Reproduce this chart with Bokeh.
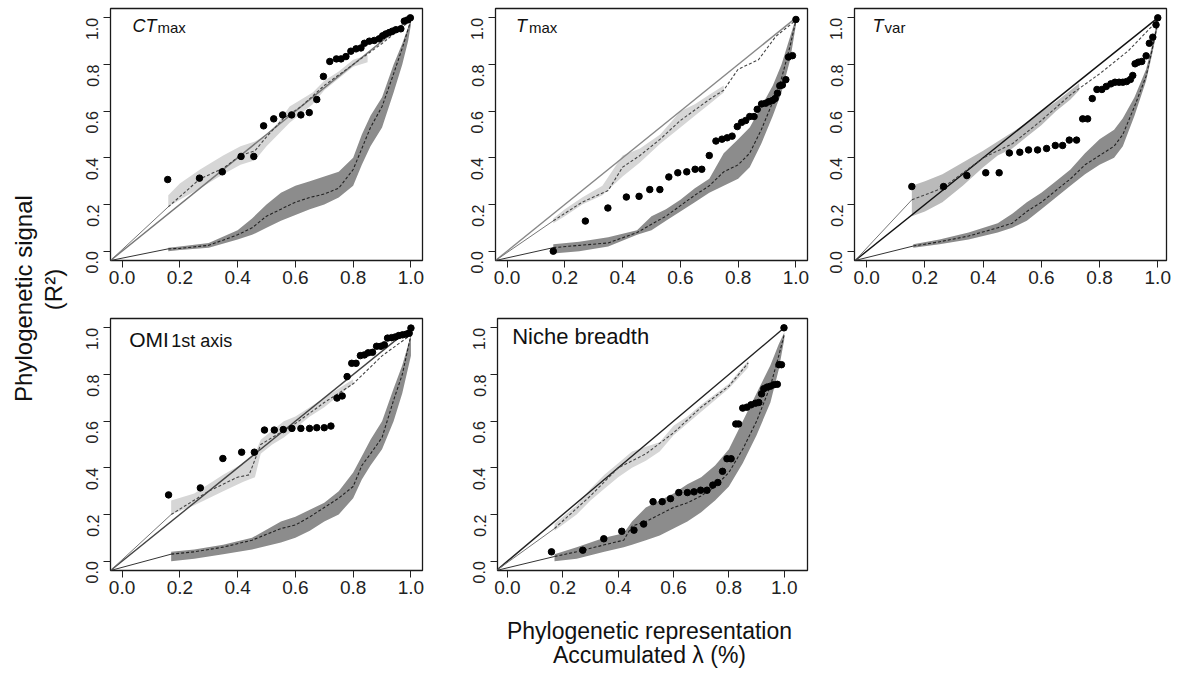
import math
from bokeh.plotting import figure
from bokeh.models import FixedTicker, PrintfTickFormatter, Label
from bokeh.layouts import row, column
from bokeh.embed import file_html
from bokeh.resources import INLINE

FONT = "Liberation Sans"
TICKS = [0.0, 0.2, 0.4, 0.6, 0.8, 1.0]
CORNER = -0.04

# ---------------- CTmax ----------------
ctmax_pts_x = [0.158, 0.268, 0.347, 0.412, 0.456, 0.49, 0.525, 0.556, 0.587, 0.619, 0.648, 0.674, 0.697, 0.719,
               0.742, 0.758, 0.775, 0.792, 0.81, 0.827, 0.839, 0.856, 0.873, 0.89, 0.902, 0.913, 0.925, 0.936,
               0.948, 0.965, 0.977, 0.988, 0.998]
ctmax_pts_y = [0.307, 0.313, 0.34, 0.406, 0.406, 0.537, 0.567, 0.584, 0.584, 0.584, 0.594, 0.65, 0.749, 0.813,
               0.824, 0.824, 0.834, 0.857, 0.867, 0.871, 0.891, 0.9, 0.903, 0.91, 0.923, 0.931, 0.937, 0.943,
               0.949, 0.953, 0.986, 0.991, 1.0]
ctmax_light_x = [0.16, 0.2, 0.27, 0.35, 0.41, 0.46, 0.5, 0.54, 0.58, 0.62, 0.66, 0.7, 0.75, 0.8, 0.85]
ctmax_light_lo = [0.19, 0.22, 0.27, 0.33, 0.37, 0.39, 0.45, 0.5, 0.55, 0.59, 0.63, 0.69, 0.74, 0.79, 0.81]
ctmax_light_hi = [0.24, 0.29, 0.35, 0.41, 0.45, 0.47, 0.5, 0.55, 0.62, 0.65, 0.68, 0.73, 0.77, 0.82, 0.84]
ctmax_lmean_x = [0.16, 0.27, 0.35, 0.41, 0.46, 0.5, 0.56, 0.62, 0.7, 0.8, 0.9, 0.97, 1.0]
ctmax_lmean_y = [0.19, 0.31, 0.355, 0.41, 0.43, 0.49, 0.57, 0.62, 0.71, 0.80, 0.89, 0.96, 0.99]
ctmax_dark_x = [0.16, 0.2, 0.3, 0.4, 0.45, 0.5, 0.55, 0.6, 0.65, 0.7, 0.75, 0.8, 0.83, 0.86, 0.9, 0.94, 0.97, 0.99, 1.0]
ctmax_dark_lo = [0.0, 0.005, 0.015, 0.05, 0.07, 0.10, 0.13, 0.155, 0.18, 0.2, 0.23, 0.28, 0.37, 0.45, 0.53, 0.68, 0.8, 0.9, 0.97]
ctmax_dark_hi = [0.015, 0.02, 0.035, 0.09, 0.14, 0.2, 0.25, 0.28, 0.3, 0.32, 0.34, 0.40, 0.5, 0.58, 0.66, 0.8, 0.89, 0.96, 1.0]
ctmax_dark_mean = [0.01, 0.012, 0.025, 0.07, 0.1, 0.15, 0.18, 0.21, 0.23, 0.245, 0.27, 0.35, 0.44, 0.53, 0.62, 0.76, 0.87, 0.95, 0.99]

# ---------------- Tmax ----------------
tmax_pts_x = [0.16, 0.271, 0.349, 0.413, 0.457, 0.494, 0.529, 0.56, 0.591, 0.622, 0.651, 0.674, 0.7, 0.723, 0.744,
              0.762, 0.779, 0.797, 0.812, 0.826, 0.84, 0.855, 0.866, 0.881, 0.895, 0.907, 0.919, 0.928, 0.936,
              0.944, 0.953, 0.965, 0.974, 0.988, 1.0]
tmax_pts_y = [0.0, 0.129, 0.185, 0.232, 0.235, 0.264, 0.264, 0.318, 0.336, 0.34, 0.351, 0.351, 0.41, 0.472, 0.48,
              0.486, 0.493, 0.534, 0.552, 0.56, 0.577, 0.577, 0.608, 0.631, 0.634, 0.641, 0.646, 0.654, 0.677,
              0.709, 0.712, 0.735, 0.832, 0.838, 0.993]
tmax_light_x = [0.16, 0.2, 0.26, 0.33, 0.4, 0.46, 0.53, 0.6, 0.65, 0.7, 0.75]
tmax_light_lo = [0.12, 0.15, 0.2, 0.24, 0.32, 0.38, 0.46, 0.53, 0.58, 0.63, 0.68]
tmax_light_hi = [0.14, 0.18, 0.23, 0.28, 0.41, 0.44, 0.5, 0.6, 0.63, 0.67, 0.71]
tmax_lmean_x = [0.16, 0.26, 0.35, 0.4, 0.46, 0.53, 0.6, 0.7, 0.75, 0.8, 0.87, 0.93, 1.0]
tmax_lmean_y = [0.13, 0.21, 0.26, 0.36, 0.41, 0.48, 0.56, 0.65, 0.69, 0.78, 0.82, 0.92, 0.99]
tmax_dark_x = [0.16, 0.25, 0.35, 0.45, 0.5, 0.55, 0.6, 0.65, 0.7, 0.75, 0.8, 0.84, 0.88, 0.92, 0.95, 0.98, 1.0]
tmax_dark_lo = [-0.01, 0.0, 0.02, 0.07, 0.09, 0.13, 0.17, 0.21, 0.25, 0.28, 0.31, 0.36, 0.46, 0.58, 0.68, 0.82, 0.97]
tmax_dark_hi = [0.03, 0.04, 0.06, 0.09, 0.15, 0.18, 0.22, 0.27, 0.31, 0.42, 0.48, 0.53, 0.62, 0.71, 0.8, 0.92, 1.0]
tmax_dark_mean = [0.015, 0.025, 0.035, 0.08, 0.115, 0.15, 0.195, 0.24, 0.28, 0.34, 0.37, 0.42, 0.52, 0.64, 0.74, 0.88, 0.99]

# ---------------- Tvar ----------------
tvar_pts_x = [0.155, 0.264, 0.344, 0.409, 0.455, 0.49, 0.526, 0.556, 0.587, 0.618, 0.648, 0.673, 0.696, 0.721,
              0.742, 0.759, 0.775, 0.791, 0.808, 0.823, 0.839, 0.853, 0.867, 0.88, 0.893, 0.906, 0.914, 0.922,
              0.933, 0.945, 0.96, 0.971, 0.983, 0.994, 1.0]
tvar_pts_y = [0.277, 0.277, 0.324, 0.336, 0.336, 0.421, 0.424, 0.434, 0.434, 0.44, 0.453, 0.453, 0.476, 0.476,
              0.567, 0.567, 0.654, 0.693, 0.693, 0.706, 0.717, 0.724, 0.724, 0.724, 0.727, 0.736, 0.753, 0.803,
              0.81, 0.813, 0.837, 0.891, 0.917, 0.97, 1.0]
tvar_light_x = [0.155, 0.2, 0.26, 0.33, 0.4, 0.45, 0.5, 0.55, 0.6, 0.65, 0.7, 0.73]
tvar_light_lo = [0.15, 0.17, 0.21, 0.28, 0.36, 0.41, 0.44, 0.49, 0.54, 0.6, 0.65, 0.69]
tvar_light_hi = [0.28, 0.3, 0.33, 0.38, 0.43, 0.47, 0.51, 0.55, 0.6, 0.64, 0.69, 0.72]
tvar_lmean_x = [0.155, 0.26, 0.4, 0.5, 0.6, 0.7, 0.8, 0.9, 1.0]
tvar_lmean_y = [0.22, 0.27, 0.4, 0.46, 0.56, 0.67, 0.76, 0.86, 0.99]
tvar_dark_x = [0.16, 0.25, 0.35, 0.45, 0.5, 0.55, 0.6, 0.65, 0.7, 0.75, 0.8, 0.85, 0.88, 0.92, 0.96, 0.98, 1.0]
tvar_dark_lo = [0.015, 0.03, 0.05, 0.08, 0.1, 0.13, 0.18, 0.23, 0.28, 0.33, 0.37, 0.40, 0.45, 0.58, 0.73, 0.84, 0.96]
tvar_dark_hi = [0.03, 0.05, 0.08, 0.12, 0.16, 0.21, 0.25, 0.3, 0.35, 0.42, 0.48, 0.52, 0.57, 0.66, 0.78, 0.88, 1.0]
tvar_dark_mean = [0.022, 0.04, 0.065, 0.1, 0.12, 0.17, 0.21, 0.26, 0.31, 0.37, 0.41, 0.45, 0.5, 0.62, 0.75, 0.86, 0.98]

# ---------------- OMI 1st axis ----------------
omi_pts_x = [0.161, 0.271, 0.349, 0.414, 0.458, 0.493, 0.527, 0.558, 0.588, 0.619, 0.649, 0.674, 0.7, 0.723,
             0.744, 0.762, 0.779, 0.795, 0.81, 0.825, 0.839, 0.852, 0.867, 0.881, 0.896, 0.908, 0.919, 0.933,
             0.946, 0.958, 0.971, 0.984, 0.994, 1.0]
omi_pts_y = [0.284, 0.314, 0.44, 0.467, 0.467, 0.562, 0.562, 0.564, 0.569, 0.569, 0.569, 0.572, 0.572, 0.579,
             0.699, 0.708, 0.791, 0.848, 0.848, 0.881, 0.884, 0.893, 0.895, 0.921, 0.921, 0.927, 0.956, 0.958,
             0.961, 0.967, 0.97, 0.973, 0.977, 0.999]
omi_light_x = [0.17, 0.25, 0.35, 0.42, 0.46, 0.48, 0.52, 0.56, 0.6, 0.65, 0.7, 0.75, 0.8]
omi_light_lo = [0.2, 0.24, 0.3, 0.34, 0.36, 0.46, 0.5, 0.53, 0.57, 0.62, 0.66, 0.71, 0.76]
omi_light_hi = [0.26, 0.29, 0.37, 0.42, 0.46, 0.52, 0.56, 0.6, 0.62, 0.66, 0.7, 0.74, 0.78]
omi_lmean_x = [0.17, 0.3, 0.4, 0.44, 0.48, 0.6, 0.7, 0.8, 0.9, 1.0]
omi_lmean_y = [0.2, 0.3, 0.36, 0.37, 0.5, 0.59, 0.68, 0.76, 0.88, 0.97]
omi_dark_x = [0.17, 0.25, 0.35, 0.45, 0.55, 0.6, 0.65, 0.7, 0.75, 0.8, 0.83, 0.86, 0.9, 0.94, 0.97, 1.0]
omi_dark_lo = [0.0, 0.01, 0.03, 0.05, 0.08, 0.1, 0.13, 0.17, 0.2, 0.27, 0.35, 0.41, 0.48, 0.6, 0.72, 0.88]
omi_dark_hi = [0.04, 0.05, 0.07, 0.1, 0.17, 0.19, 0.22, 0.25, 0.3, 0.38, 0.45, 0.52, 0.6, 0.74, 0.84, 0.97]
omi_dark_mean = [0.03, 0.04, 0.06, 0.09, 0.14, 0.155, 0.19, 0.23, 0.27, 0.32, 0.41, 0.46, 0.53, 0.69, 0.8, 0.97]

# ---------------- Niche breadth ----------------
niche_pts_x = [0.159, 0.272, 0.348, 0.413, 0.457, 0.492, 0.526, 0.559, 0.589, 0.619, 0.65, 0.674, 0.698, 0.721,
               0.742, 0.76, 0.777, 0.793, 0.808, 0.825, 0.835, 0.85, 0.865, 0.88, 0.896, 0.908, 0.918, 0.926,
               0.938, 0.95, 0.962, 0.975, 0.981, 0.99, 0.999]
niche_pts_y = [0.04, 0.047, 0.096, 0.128, 0.133, 0.159, 0.255, 0.255, 0.268, 0.294, 0.294, 0.297, 0.304, 0.304,
               0.326, 0.337, 0.385, 0.439, 0.439, 0.588, 0.588, 0.656, 0.66, 0.67, 0.677, 0.68, 0.717, 0.739,
               0.746, 0.75, 0.756, 0.758, 0.842, 0.842, 1.0]
niche_light_x = [0.17, 0.25, 0.3, 0.35, 0.4, 0.45, 0.5, 0.55, 0.6, 0.65, 0.7, 0.8, 0.87]
niche_light_lo = [0.13, 0.2, 0.26, 0.31, 0.36, 0.4, 0.43, 0.47, 0.54, 0.59, 0.64, 0.74, 0.83]
niche_light_hi = [0.16, 0.24, 0.31, 0.37, 0.42, 0.47, 0.49, 0.51, 0.58, 0.62, 0.67, 0.76, 0.86]
niche_lmean_x = [0.17, 0.3, 0.4, 0.5, 0.6, 0.7, 0.8, 0.87]
niche_lmean_y = [0.14, 0.28, 0.4, 0.46, 0.55, 0.66, 0.75, 0.85]
niche_dark_x = [0.17, 0.25, 0.35, 0.42, 0.45, 0.5, 0.55, 0.6, 0.65, 0.7, 0.75, 0.8, 0.85, 0.9, 0.95, 0.98, 1.0]
niche_dark_lo = [0.0, 0.01, 0.04, 0.06, 0.07, 0.09, 0.11, 0.14, 0.17, 0.21, 0.26, 0.32, 0.42, 0.54, 0.68, 0.82, 0.95]
niche_dark_hi = [0.03, 0.06, 0.1, 0.12, 0.17, 0.23, 0.26, 0.29, 0.33, 0.36, 0.41, 0.48, 0.6, 0.72, 0.84, 0.93, 0.98]
niche_dark_mean = [0.02, 0.04, 0.07, 0.09, 0.15, 0.17, 0.2, 0.23, 0.25, 0.28, 0.32, 0.38, 0.48, 0.6, 0.75, 0.88, 0.97]

Y_LABEL = ["Phylogenetic signal", "(R\u00b2)"]
X_LABEL = ["Phylogenetic representation", "Accumulated \u03bb (%)"]

DARK_FILL = "#8c8c8c"
LIGHT_FILL = "#d6d6d6"


def make_panel(width, height, bl, br, bt, bb, xr, yr, light, dark, pts, light_fill, diag_color):
    p = figure(width=width, height=height, x_range=xr, y_range=yr,
               min_border_left=bl, min_border_right=br, min_border_top=bt, min_border_bottom=bb,
               toolbar_location=None, output_backend="svg", title=None)
    p.grid.visible = False
    p.outline_line_color = "#1a1a1a"
    p.outline_line_width = 1.3
    p.background_fill_color = "white"
    p.border_fill_color = "white"
    for ax in (p.xaxis[0], p.yaxis[0]):
        ax.ticker = FixedTicker(ticks=TICKS, minor_ticks=[])
        ax.formatter = PrintfTickFormatter(format="%.1f")
        ax.axis_line_color = None
        ax.major_tick_in = 0
        ax.major_tick_out = 7
        ax.major_tick_line_color = "#222222"
        ax.major_tick_line_width = 1
        ax.major_label_text_font = FONT
        ax.major_label_text_color = "#222222"
    p.xaxis[0].major_label_text_font_size = "19px"
    p.xaxis[0].major_label_standoff = 3
    p.yaxis[0].major_label_text_font_size = "16px"
    p.yaxis[0].major_label_orientation = math.pi / 2
    p.yaxis[0].major_label_standoff = 11

    lx, llo, lhi, lmx, lmy = light
    dx, dlo, dhi, dmean = dark
    px, py = pts
    p.varea(x=lx, y1=llo, y2=lhi, fill_color=light_fill, fill_alpha=1.0)
    p.varea(x=dx, y1=dlo, y2=dhi, fill_color=DARK_FILL, fill_alpha=1.0)
    # 1:1 line and lines from the origin corner
    p.line(x=[CORNER, 1.0], y=[CORNER, 1.0], line_color=diag_color, line_width=1.4)
    p.line(x=[CORNER, lmx[0]], y=[CORNER, lmy[0]], line_color="#777777", line_width=1)
    p.line(x=[CORNER, dx[0]], y=[CORNER, dmean[0]], line_color="#333333", line_width=1)
    p.line(x=lmx, y=lmy, line_color="#444444", line_width=1.1, line_dash="3 2")
    p.line(x=dx, y=dmean, line_color="#222222", line_width=1.1, line_dash="3 2")
    p.scatter(x=px, y=py, size=6.5, color="black")
    return p


def add_title(p, x, y, main, sub, main_size, sub_size, italic, sub_offset):
    p.add_layout(Label(x=x, y=y, text=main, text_font=FONT, text_font_size=main_size,
                       text_font_style="italic" if italic else "normal", text_color="#111111",
                       text_baseline="middle"))
    if sub:
        p.add_layout(Label(x=x, y=y, x_offset=sub_offset, y_offset=-1, text=sub, text_font=FONT,
                           text_font_size=sub_size, text_color="#111111", text_baseline="middle"))


XR = (-0.04, 1.04)
YR = (-0.04, 1.04)

p1 = make_panel(385, 300, 42, 31, 8, 40, XR, YR,
                (ctmax_light_x, ctmax_light_lo, ctmax_light_hi, ctmax_lmean_x, ctmax_lmean_y),
                (ctmax_dark_x, ctmax_dark_lo, ctmax_dark_hi, ctmax_dark_mean),
                (ctmax_pts_x, ctmax_pts_y), LIGHT_FILL, "#777777")
add_title(p1, 0.036, 0.963, "CT", "max", "18px", "15px", True, 25)

p2 = make_panel(359, 300, 42, 5, 8, 40, XR, YR,
                (tmax_light_x, tmax_light_lo, tmax_light_hi, tmax_lmean_x, tmax_lmean_y),
                (tmax_dark_x, tmax_dark_lo, tmax_dark_hi, tmax_dark_mean),
                (tmax_pts_x, tmax_pts_y), LIGHT_FILL, "#888888")
add_title(p2, 0.031, 0.963, "T", "max", "18px", "15px", True, 13)

p3 = make_panel(359, 300, 42, 5, 8, 40, (-0.042, 1.03), YR,
                (tvar_light_x, tvar_light_lo, tvar_light_hi, tvar_lmean_x, tvar_lmean_y),
                (tvar_dark_x, tvar_dark_lo, tvar_dark_hi, tvar_dark_mean),
                (tvar_pts_x, tvar_pts_y), "#bababa", "#111111")
add_title(p3, 0.02, 0.963, "T", "var", "18px", "15px", True, 12)

p4 = make_panel(385, 310, 42, 31, 18, 40, XR, YR,
                (omi_light_x, omi_light_lo, omi_light_hi, omi_lmean_x, omi_lmean_y),
                (omi_dark_x, omi_dark_lo, omi_dark_hi, omi_dark_mean),
                (omi_pts_x, omi_pts_y), LIGHT_FILL, "#444444")
add_title(p4, 0.025, 0.95, "OMI", "1st axis", "21px", "18px", False, 42)

p5 = make_panel(359, 310, 44, 5, 18, 40, (-0.036, 1.084), YR,
                (niche_light_x, niche_light_lo, niche_light_hi, niche_lmean_x, niche_lmean_y),
                (niche_dark_x, niche_dark_lo, niche_dark_hi, niche_dark_mean),
                (niche_pts_x, niche_pts_y), LIGHT_FILL, "#222222")
add_title(p5, 0.017, 0.961, "Niche breadth", None, "22px", None, False, 0)


def blank(width, height):
    b = figure(width=width, height=height, x_range=(0, width), y_range=(0, height),
               min_border=0, toolbar_location=None, output_backend="svg", title=None,
               x_axis_location=None, y_axis_location=None)
    b.grid.visible = False
    b.outline_line_color = None
    b.background_fill_color = "white"
    b.border_fill_color = "white"
    return b


ylab = blank(68, 668)
ylab.add_layout(Label(x=22.5, y=370, text=Y_LABEL[0], angle=math.pi / 2, text_align="center",
                      text_baseline="middle", text_font=FONT, text_font_size="24px", text_color="#111111"))
ylab.add_layout(Label(x=53, y=379, text=Y_LABEL[1], angle=math.pi / 2, text_align="center",
                      text_baseline="middle", text_font=FONT, text_font_size="24px", text_color="#111111"))

xlab = blank(1103, 58)
xlab.add_layout(Label(x=581, y=38, text=X_LABEL[0], text_align="center", text_baseline="middle",
                      text_font=FONT, text_font_size="23px", text_color="#111111"))
xlab.add_layout(Label(x=581, y=14, text=X_LABEL[1], text_align="center", text_baseline="middle",
                      text_font=FONT, text_font_size="23px", text_color="#111111"))

layout = row(ylab, column(row(p1, p2, p3), row(p4, p5), xlab))

open("out.html", "w").write(file_html(layout, INLINE))
